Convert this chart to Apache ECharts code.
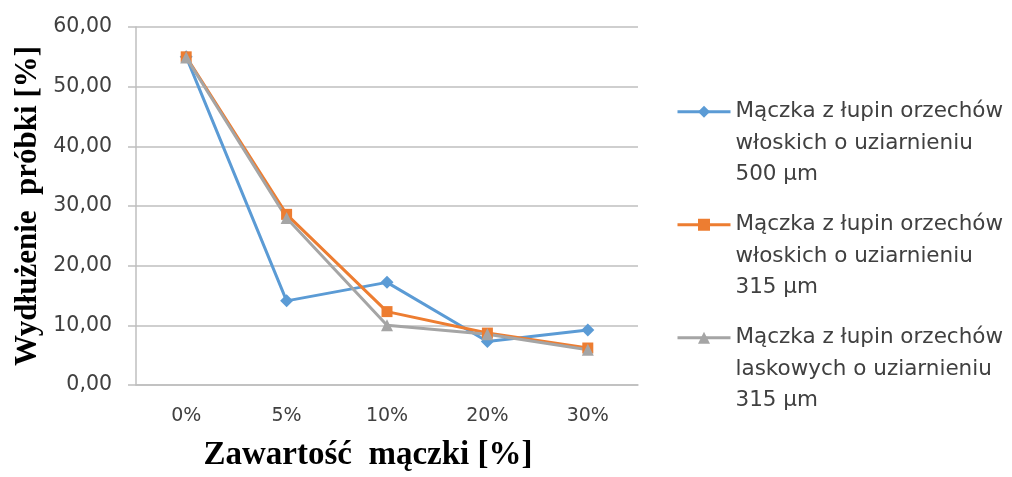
<!DOCTYPE html>
<html>
<head>
<meta charset="utf-8">
<script src="https://cdn.jsdelivr.net/npm/echarts@6/dist/echarts.min.js"></script>
<style>
  html, body { margin: 0; padding: 0; background: #fff; }
  #chart { width: 1012px; height: 477px; }
</style>
</head>
<body>
<div id="chart"></div>
<script>
const categories = ['0%', '5%', '10%', '20%', '30%']
const walnut500 = [55.0, 14.1, 17.2, 7.3, 9.2]
const walnut315 = [55.0, 28.6, 12.3, 8.7, 6.2]
const hazel315 = [54.9, 28.0, 10.0, 8.5, 5.9]
const seriesNames = [
  'Mączka z łupin orzechów\nwłoskich o uziarnieniu\n500 µm',
  'Mączka z łupin orzechów\nwłoskich o uziarnieniu\n315 µm',
  'Mączka z łupin orzechów\nlaskowych o uziarnieniu\n315 µm'
]

const LABELFONT = 'DejaVu Sans'
const TITLEFONT = 'Liberation Serif'
const GRIDCOLOR = '#bfbfbf'
const TEXTCOLOR = '#404040'

const lineSeries = (name, data, color, symbol, size) => ({
  name,
  type: 'line',
  data,
  symbol,
  symbolSize: size,
  lineStyle: { width: 3, color },
  itemStyle: { color },
  animation: false
})

const chart = echarts.init(document.getElementById('chart'))
chart.setOption({
  backgroundColor: '#fff',
  grid: { left: 136, right: 374, top: 27, bottom: 92 },
  legend: {
    orient: 'vertical',
    left: 671,
    top: 28,
    itemWidth: 53,
    itemHeight: 15,
    itemGap: -44.5,
    lineStyle: { width: 3 },
    // two empty lines first, so the first text line sits level with the icon
    formatter: name => '\n\n' + name,
    textStyle: {
      fontFamily: LABELFONT,
      fontSize: 21.5,
      color: TEXTCOLOR,
      lineHeight: 31.5
    }
  },
  xAxis: {
    type: 'category',
    data: categories,
    boundaryGap: true,
    name: 'Zawartość  mączki [%]',
    nameLocation: 'middle',
    nameGap: 54,
    nameTextStyle: {
      fontFamily: TITLEFONT, fontWeight: 'bold', fontSize: 33, color: '#000',
      padding: [0, 38, 0, 0]
    },
    axisLine: { lineStyle: { color: GRIDCOLOR, width: 1.5 } },
    axisTick: { show: false },
    axisLabel: { fontFamily: LABELFONT, fontSize: 19, color: TEXTCOLOR, margin: 22 }
  },
  yAxis: {
    type: 'value',
    min: 0,
    max: 60,
    interval: 10,
    name: 'Wydłużenie  próbki [%]',
    nameLocation: 'middle',
    nameGap: 93,
    nameTextStyle: { fontFamily: TITLEFONT, fontWeight: 'bold', fontSize: 31, color: '#000' },
    axisLine: { show: true, lineStyle: { color: GRIDCOLOR, width: 1.5 } },
    axisTick: { show: true, length: 8, lineStyle: { color: GRIDCOLOR, width: 1.5 } },
    splitLine: { lineStyle: { color: GRIDCOLOR, width: 1.5 } },
    axisLabel: {
      fontFamily: LABELFONT,
      fontSize: 20.5,
      color: TEXTCOLOR,
      margin: 24,
      formatter: v => v.toFixed(2).replace('.', ',')
    }
  },
  series: [
    lineSeries(seriesNames[0], walnut500, '#5b9bd5', 'diamond', 13),
    lineSeries(seriesNames[1], walnut315, '#ed7d31', 'rect', 11),
    lineSeries(seriesNames[2], hazel315, '#a5a5a5', 'triangle', 12)
  ]
})
</script>
</body>
</html>
